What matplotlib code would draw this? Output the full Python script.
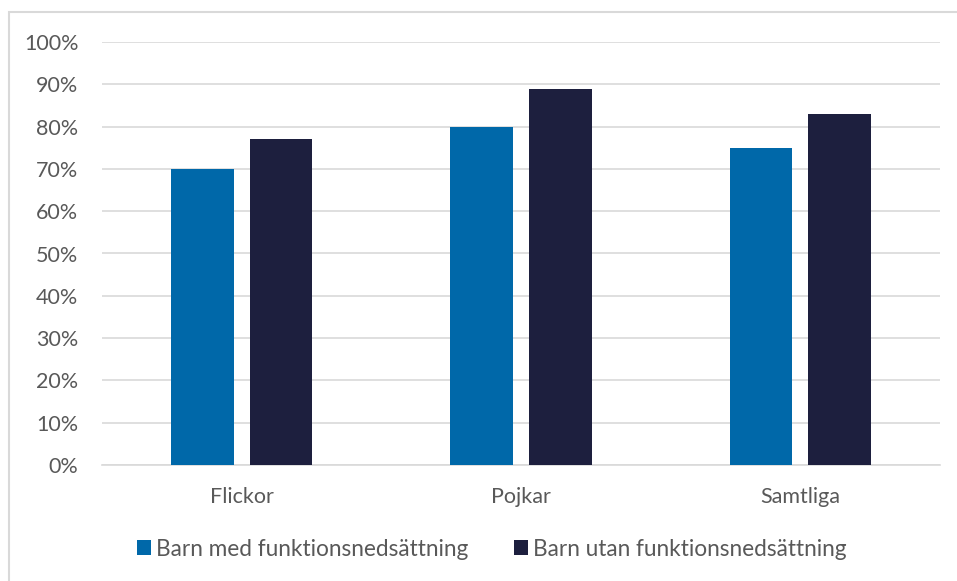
import numpy as np
import matplotlib.pyplot as plt
from matplotlib.patches import Rectangle

plt.rcParams['font.family'] = ['Lato', 'DejaVu Sans']

categories = ["Flickor", "Pojkar", "Samtliga"]
med = [70, 80, 75]
utan = [77, 89, 83]
series_names = ["Barn med funktionsnedsättning", "Barn utan funktionsnedsättning"]
colors = ["#0068A9", "#1D1F3E"]
text_color = "#595959"

fig = plt.figure(figsize=(9.57, 5.81), dpi=100)
ax = fig.add_axes([102 / 957, 1 - 465 / 581, 838 / 957, 423 / 581])

x = np.arange(len(categories))
w = 0.225
off = 0.141
b1 = ax.bar(x - off, med, w, color=colors[0], label=series_names[0], zorder=3)
b2 = ax.bar(x + off, utan, w, color=colors[1], label=series_names[1], zorder=3)

ax.set_xlim(-0.5, 2.5)
ax.set_ylim(0, 100)
ax.set_yticks(np.arange(0, 101, 10))
ax.set_yticklabels([f"{v}%" for v in range(0, 101, 10)])
ax.set_xticks(x)
ax.set_xticklabels(categories)
ax.grid(axis='y', color="#D9D9D9", linewidth=1.2, zorder=0)
for s in ["top", "right", "left"]:
    ax.spines[s].set_visible(False)
ax.spines["bottom"].set_color("#D9D9D9")
ax.spines["bottom"].set_linewidth(1.2)
ax.tick_params(axis='both', length=0, labelsize=15.5, labelcolor=text_color)
ax.tick_params(axis='y', pad=17)
ax.tick_params(axis='x', pad=16)

fig.legend(handles=[b1, b2], labels=series_names, loc='center',
           bbox_to_anchor=(492 / 957, 1 - 549 / 581), ncol=2, frameon=False,
           fontsize=16.3, labelcolor=text_color, handlelength=0.6, handleheight=0.6,
           handletextpad=0.25, columnspacing=2.0)

fig.patches.append(Rectangle((9 / 957, -0.1), 1.2, 1 - 12 / 581 + 0.1,
                             transform=fig.transFigure, fill=False,
                             edgecolor="#D9D9D9", linewidth=1.5))

fig.savefig("out.png", dpi=100)
